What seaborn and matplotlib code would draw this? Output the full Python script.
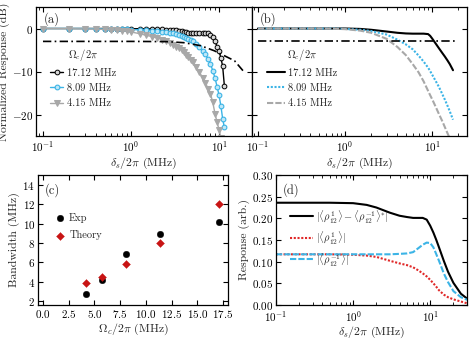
import matplotlib
matplotlib.use('Agg')
import matplotlib.pyplot as plt
import seaborn as sns

# ---- (a) measured response vs probe detuning (MHz), dB ----
freq_exp = [0.1, 0.2, 0.3, 0.4, 0.5, 0.6, 0.7, 0.8, 0.9, 1.0,
            1.25, 1.5, 1.75, 2.0, 2.25, 2.5, 2.75, 3.0, 3.25, 3.5,
            3.75, 4.0, 4.25, 4.5, 4.75, 5.0, 5.5, 6.0, 6.5, 7.0,
            7.5, 8.0, 8.5, 9.0, 9.5, 10.0, 10.5, 11.0, 11.5, 12.0]
exp_17 = [0, 0, 0, 0, 0, 0, 0, -0.05, -0.05, -0.05,
          -0.05, -0.1, -0.1, -0.15, -0.2, -0.25, -0.3, -0.35, -0.45, -0.55,
          -0.65, -0.75, -0.85, -0.95, -1.0, -1.05, -1.1, -1.1, -1.05, -1.0,
          -1.1, -1.4, -2.0, -3.0, -4.2, -5.3, -6.8, -8.8, -13.3]
exp_8 = [0, 0, 0, -0.05, -0.1, -0.1, -0.15, -0.2, -0.2, -0.25,
         -0.3, -0.4, -0.5, -0.6, -0.7, -0.8, -0.95, -1.1, -1.3, -1.5,
         -1.7, -1.9, -2.2, -2.5, -2.7, -3.0, -3.7, -4.4, -5.2, -6.0,
         -7.1, -8.3, -9.8, -11.5, -13.5, -15.5, -18.0, -21.0, -23.0]
exp_4 = [0, -0.05, -0.1, -0.15, -0.2, -0.3, -0.4, -0.5, -0.6, -0.8,
         -1.2, -1.6, -1.9, -2.2, -2.6, -3.0, -3.4, -3.8, -4.2, -4.6,
         -5.0, -5.5, -6.1, -6.7, -7.3, -7.9, -9.0, -10.2, -11.4, -12.6,
         -14.0, -15.2, -17.2, -19.8, -21.8, -23.5, -25.5]
cut_x = [0.1, 1.0, 2.5, 4.0, 6.2, 8.9, 15.0, 18.7]
cut_y = [-3, -3, -3.05, -3.3, -4.0, -5.2, -7.5, -9.8]

# ---- (b) theory ----
freq_th = [0.1, 0.2, 0.3, 0.5, 0.7, 1.0, 1.5, 2.0, 3.0, 4.0, 5.0, 6.0,
           7.0, 8.0, 9.0, 9.5, 10.0, 11.0, 12.0, 13.0, 14.0, 15.0, 16.0, 17.4]
th_17 = [0, 0, 0, 0, 0, 0, -0.1, -0.3, -0.7, -1.0, -1.15, -1.2,
         -1.2, -1.2, -1.3, -1.7, -2.3, -3.5, -4.6, -5.6, -6.5, -7.4, -8.3, -9.7]
th_8 = [0, 0, 0, 0, 0, -0.1, -0.3, -0.6, -1.4, -2.6, -3.7, -4.85,
        -6.3, -7.7, -9.1, -9.9, -10.7, -12.2, -13.6, -15.1, -16.5, -17.9, -19.3, -21.2]
th_4 = [0, 0, 0, 0, -0.05, -0.15, -0.5, -1.0, -2.4, -4.3, -6.2, -8.3,
        -10.2, -12.3, -14.5, -15.5, -16.4, -18.2, -19.9, -21.4, -22.9, -24.3, -25.6, -27.4]
th_cut_x = [0.1, 20.0]
th_cut_y = [-3, -3]

# ---- (c) bandwidth ----
omega = [4.15, 5.7, 8.09, 11.4, 17.12]
bw_exp = [2.7, 4.2, 6.85, 8.9, 10.15]
bw_th = [3.9, 4.45, 5.85, 7.95, 12.05]

# ---- (d) coherences ----
freq_d = [0.1, 0.2, 0.5, 1.0, 1.5, 2.0, 3.0, 4.0, 5.0, 6.0, 7.0,
          8.0, 9.0, 10.0, 11.0, 12.0, 13.0, 15.0, 17.0, 20.0, 25.0, 30.0]
rho_diff = [0.236, 0.236, 0.236, 0.235, 0.231, 0.225, 0.213, 0.206, 0.203, 0.201, 0.201,
            0.201, 0.197, 0.183, 0.167, 0.150, 0.133, 0.102, 0.077, 0.051, 0.026, 0.015]
rho_p = [0.117, 0.117, 0.117, 0.116, 0.114, 0.111, 0.102, 0.096, 0.092, 0.087, 0.080,
         0.073, 0.066, 0.058, 0.050, 0.042, 0.034, 0.024, 0.018, 0.013, 0.008, 0.004]
rho_m = [0.117, 0.117, 0.117, 0.117, 0.117, 0.117, 0.117, 0.118, 0.119, 0.122, 0.131,
         0.139, 0.144, 0.143, 0.133, 0.117, 0.102, 0.073, 0.053, 0.032, 0.018, 0.012]

blue = '#3cb4e6'
gray = '#a8a8a8'
red = '#e02828'
dred = '#c81414'

sns.set_style('ticks')
plt.rcParams.update({
    'font.family': 'cmr10',
    'mathtext.fontset': 'cm',
    'axes.formatter.use_mathtext': True,
    'axes.unicode_minus': False,
    'font.size': 8,
    'axes.labelsize': 8.5,
    'xtick.labelsize': 8, 'ytick.labelsize': 8,
    'axes.labelpad': 1.5,
    'xtick.major.pad': 2, 'ytick.major.pad': 2,
    'xtick.direction': 'in', 'ytick.direction': 'in',
    'xtick.top': True, 'ytick.right': True,
    'xtick.major.size': 3.5, 'ytick.major.size': 3.5,
    'xtick.minor.size': 2, 'ytick.minor.size': 2,
    'axes.edgecolor': 'black', 'axes.linewidth': 0.9,
    'xtick.color': 'black', 'ytick.color': 'black',
})

fig = plt.figure(figsize=(4.69, 3.39), dpi=100)
W, H = 469, 339


def rect(x0, y0, x1, y1):
    return [x0 / W, 1 - y1 / H, (x1 - x0) / W, (y1 - y0) / H]


ax_a = fig.add_axes(rect(36, 7, 252, 136))
ax_b = fig.add_axes(rect(252, 7, 467, 136), sharey=ax_a)
ax_c = fig.add_axes(rect(38, 175, 228, 305))
ax_d = fig.add_axes(rect(276, 175, 467, 305))

dashdot = (0, (5, 2, 1, 2))
leg_kw = dict(frameon=False, loc='upper left', fontsize=7.5, title_fontsize=7.5,
              handletextpad=0.3, borderaxespad=0)

# (a)
sns.lineplot(x=freq_exp[:len(exp_17)], y=exp_17, ax=ax_a, color='black', lw=1,
             marker='o', markersize=3.4, markerfacecolor='#d8d8d8', markeredgecolor='black',
             markeredgewidth=0.7, label='17.12 MHz', errorbar=None)
sns.lineplot(x=freq_exp[:len(exp_8)], y=exp_8, ax=ax_a, color=blue, lw=1,
             marker='o', markersize=3.4, markerfacecolor='#bfe8f8', markeredgecolor=blue,
             markeredgewidth=0.8, label='8.09 MHz', errorbar=None)
sns.lineplot(x=freq_exp[:len(exp_4)], y=exp_4, ax=ax_a, color=gray, lw=1,
             marker='v', markersize=4, markeredgecolor=gray,
             label='4.15 MHz', errorbar=None)
sns.lineplot(x=cut_x, y=cut_y, ax=ax_a, color='black', lw=1.2, linestyle=dashdot,
             errorbar=None)
ax_a.set_xscale('log')
ax_a.set_xlim(0.0833, 23.7)
ax_a.set_ylim(-25, 5)
ax_a.set_yticks([-20, -10, 0])
ax_a.set_xlabel(r'$\delta_s/2\pi$ (MHz)')
ax_a.set_ylabel('Normalized Response (dB)')
ax_a.text(0.035, 0.88, '(a)', transform=ax_a.transAxes, fontsize=9)
h, l = ax_a.get_legend_handles_labels()
ax_a.legend(h[:3], l[:3], title=r'$\Omega_c/2\pi$', bbox_to_anchor=(0.045, 0.725),
            handlelength=1.3, labelspacing=0.55, **leg_kw)

# (b)
sns.lineplot(x=freq_th, y=th_17, ax=ax_b, color='black', lw=1.5, label='17.12 MHz',
             errorbar=None)
sns.lineplot(x=freq_th, y=th_8, ax=ax_b, color=blue, lw=1.5, linestyle=(0, (1, 0.8)),
             label='8.09 MHz', errorbar=None)
sns.lineplot(x=freq_th, y=th_4, ax=ax_b, color=gray, lw=1.5, linestyle=(0, (3, 1)),
             label='4.15 MHz', errorbar=None)
sns.lineplot(x=th_cut_x, y=th_cut_y, ax=ax_b, color='black', lw=1.2, linestyle=dashdot,
             errorbar=None)
ax_b.set_xscale('log')
ax_b.set_xlim(0.0853, 25.2)
ax_b.tick_params(labelleft=False)
ax_b.set_xlabel(r'$\delta_s/2\pi$ (MHz)')
ax_b.set_ylabel('')
ax_b.text(0.035, 0.88, '(b)', transform=ax_b.transAxes, fontsize=9)
h, l = ax_b.get_legend_handles_labels()
ax_b.legend(h[:3], l[:3], title=r'$\Omega_c/2\pi$', bbox_to_anchor=(0.05, 0.725),
            handlelength=1.7, labelspacing=0.55, **leg_kw)

# (c)
sns.scatterplot(x=omega, y=bw_exp, ax=ax_c, color='black', marker='o', s=22,
                edgecolor='black', linewidth=0.3, label='Exp')
sns.scatterplot(x=omega, y=bw_th, ax=ax_c, color=dred, marker='D', s=16,
                edgecolor=dred, linewidth=0.3, label='Theory')
ax_c.set_xlim(-0.5, 18)
ax_c.set_ylim(1.6, 15)
ax_c.set_xticks([0, 2.5, 5, 7.5, 10, 12.5, 15, 17.5])
ax_c.set_yticks([2, 4, 6, 8, 10, 12, 14])
ax_c.set_xlabel(r'$\Omega_c/2\pi$ (MHz)')
ax_c.set_ylabel('Bandwidth (MHz)')
ax_c.text(0.035, 0.86, '(c)', transform=ax_c.transAxes, fontsize=9)
ax_c.legend(bbox_to_anchor=(0.06, 0.74), labelspacing=0.7, handlelength=1.2, **leg_kw)

# (d)
sns.lineplot(x=freq_d, y=rho_diff, ax=ax_d, color='black', lw=1.5,
             label=r'$|\langle\rho_{12}^{1}\rangle - \langle\rho_{12}^{-1}\rangle^{*}|$',
             errorbar=None)
sns.lineplot(x=freq_d, y=rho_p, ax=ax_d, color=red, lw=1.5, linestyle=(0, (1, 0.8)),
             label=r'$|\langle\rho_{12}^{1}\rangle|$', errorbar=None)
sns.lineplot(x=freq_d, y=rho_m, ax=ax_d, color=blue, lw=1.5, linestyle=(0, (3, 1)),
             label=r'$|\langle\rho_{12}^{-1}\rangle|$', errorbar=None)
ax_d.set_xscale('log')
ax_d.set_xlim(0.1, 30)
ax_d.set_ylim(0, 0.3)
ax_d.set_yticks([0, 0.05, 0.1, 0.15, 0.2, 0.25, 0.3])
ax_d.tick_params(axis='x', which='major', pad=2.8)
ax_d.set_xlabel(r'$\delta_s/2\pi$ (MHz)', labelpad=0.5)
ax_d.set_ylabel('Response (arb.)')
ax_d.text(0.035, 0.86, '(d)', transform=ax_d.transAxes, fontsize=9)
ax_d.legend(bbox_to_anchor=(0.05, 0.78), handlelength=2.2, labelspacing=0.45, **leg_kw)

fig.savefig('out.png', dpi=100)
